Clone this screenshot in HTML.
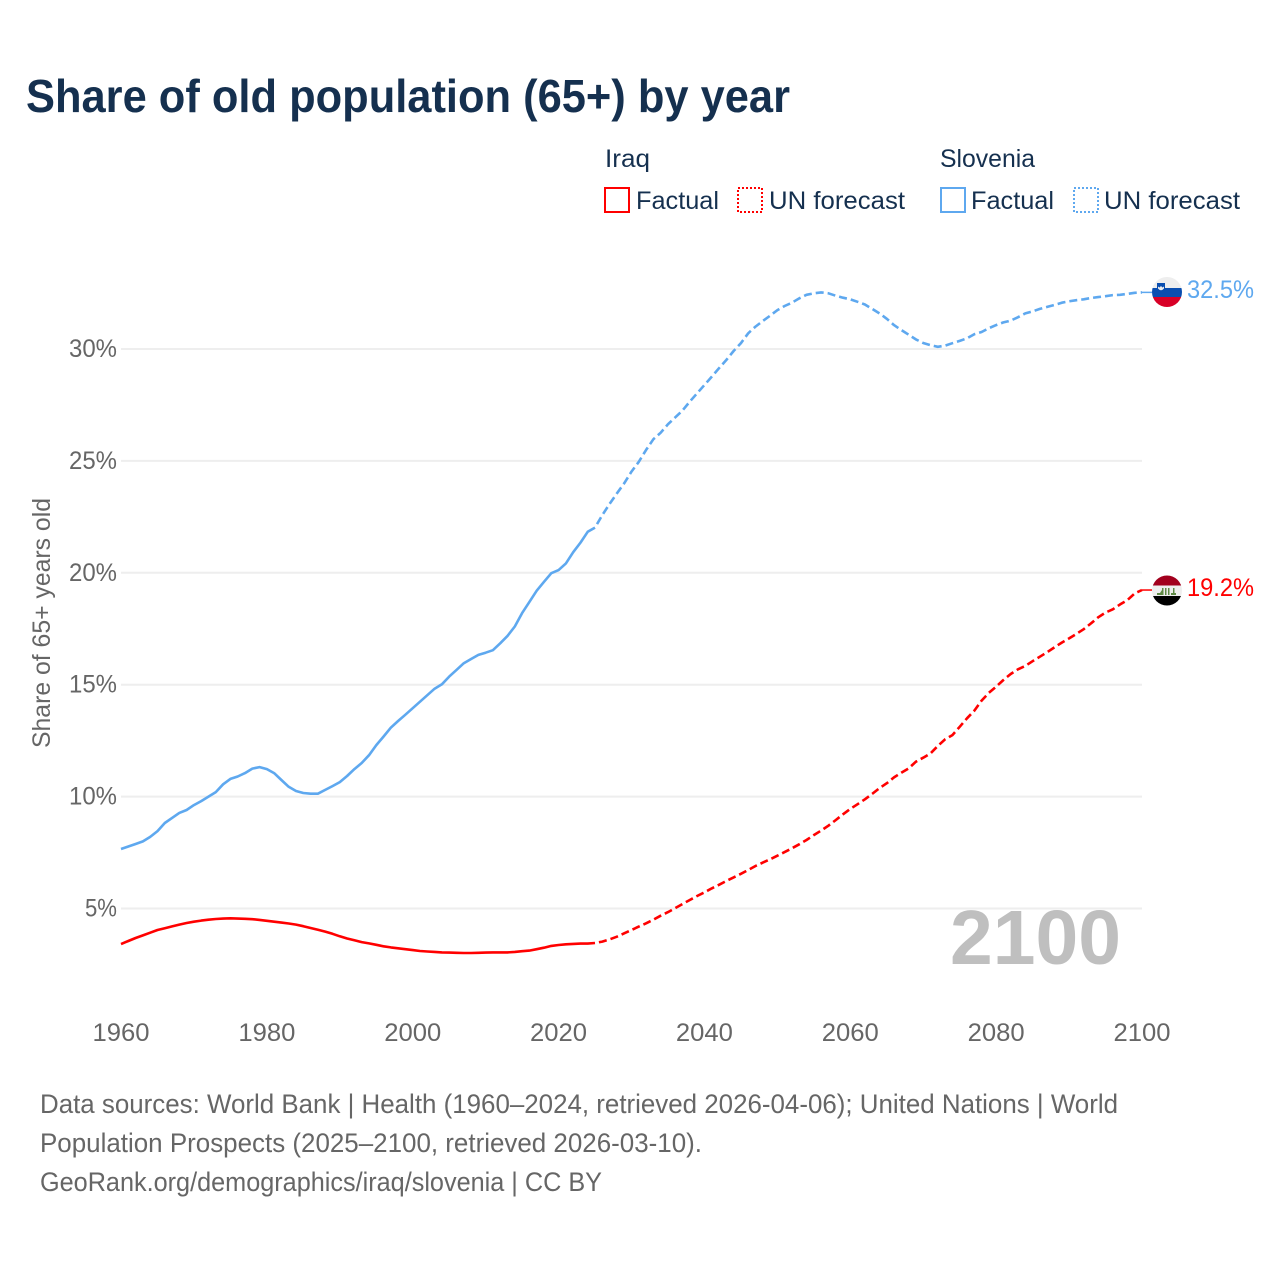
<!DOCTYPE html>
<html lang="en">
<head>
<meta charset="utf-8">
<title>Share of old population (65+) by year</title>
<style>
html,body{margin:0;padding:0;background:#fff}
svg{display:block}
text{font-family:"Liberation Sans",sans-serif}
</style>
</head>
<body>
<svg id="chart" xmlns="http://www.w3.org/2000/svg" width="1280" height="1280" viewBox="0 0 1280 1280">
<defs>
<clipPath id="clip-si"><circle cx="1167" cy="292" r="15"/></clipPath>
<clipPath id="clip-iq"><circle cx="1167" cy="590.5" r="15"/></clipPath>
</defs>
<rect width="1280" height="1280" fill="#fff"/>
<text x="26" y="112" font-size="46" font-weight="700" fill="#15304f" textLength="764" lengthAdjust="spacingAndGlyphs">Share of old population (65+) by year</text>

<g font-size="25" fill="#15304f">
<text x="605" y="167" textLength="45" lengthAdjust="spacingAndGlyphs">Iraq</text>
<rect x="605" y="188" width="24" height="24" fill="none" stroke="#ff0000" stroke-width="2"/>
<text x="636" y="209" textLength="83" lengthAdjust="spacingAndGlyphs">Factual</text>
<rect x="738" y="188" width="24" height="24" fill="none" stroke="#ff0000" stroke-width="2" stroke-dasharray="2 2"/>
<text x="769" y="209" textLength="136" lengthAdjust="spacingAndGlyphs">UN forecast</text>
<text x="940" y="167" textLength="95" lengthAdjust="spacingAndGlyphs">Slovenia</text>
<rect x="941" y="188" width="24" height="24" fill="none" stroke="#5ea8ef" stroke-width="2"/>
<text x="971" y="209" textLength="83" lengthAdjust="spacingAndGlyphs">Factual</text>
<rect x="1074" y="188" width="24" height="24" fill="none" stroke="#5ea8ef" stroke-width="2" stroke-dasharray="2 2"/>
<text x="1104" y="209" textLength="136" lengthAdjust="spacingAndGlyphs">UN forecast</text>
</g>

<text transform="translate(50,748) rotate(-90)" font-size="25" fill="#666" textLength="250" lengthAdjust="spacingAndGlyphs">Share of 65+ years old</text>

<g id="grid"></g>
<g id="y-ticks"></g>
<g id="x-ticks"></g>

<text x="950" y="964" font-size="77" font-weight="700" fill="#bfbfbf" textLength="171" lengthAdjust="spacingAndGlyphs">2100</text>

<g id="series"></g>

<g clip-path="url(#clip-si)">
<rect x="1152" y="277" width="30" height="11" fill="#eeeeee"/>
<rect x="1152" y="288" width="30" height="9" fill="#0a4eb0"/>
<rect x="1152" y="297" width="30" height="11" fill="#d80027"/>
<rect x="1157" y="283" width="8" height="9" fill="#0a4eb0"/>
<path d="M1158 286.5 l1.5 1 l1.5 -1.5 l1.5 1.5 l1.5 -1 v2 q-3 3.5 -6 0z" fill="#eeeeee"/>
</g>
<g clip-path="url(#clip-iq)">
<rect x="1152" y="575" width="30" height="10.5" fill="#a2001d"/>
<rect x="1152" y="585.5" width="30" height="10.5" fill="#eeeeee"/>
<rect x="1152" y="596" width="30" height="10.5" fill="#000000"/>
<path d="M1157 595v-2h3l2-3v-2h1.500v7zM1165 595v-7h1.500v7zM1168 595v-7h1.500v7zM1171 595v-2h2v-5h1.500v5h1.500v2z" fill="#5f8a45"/>
</g>

<text x="1187" y="298" font-size="25" fill="#5ea8ef" textLength="67" lengthAdjust="spacingAndGlyphs">32.5%</text>
<text x="1187" y="596" font-size="25" fill="#ff0000" textLength="67" lengthAdjust="spacingAndGlyphs">19.2%</text>

<g font-size="26.5" fill="#666">
<text x="40" y="1113" textLength="1078" lengthAdjust="spacingAndGlyphs">Data sources: World Bank | Health (1960–2024, retrieved 2026-04-06); United Nations | World</text>
<text x="40" y="1152" textLength="662" lengthAdjust="spacingAndGlyphs">Population Prospects (2025–2100, retrieved 2026-03-10).</text>
<text x="40" y="1191" textLength="562" lengthAdjust="spacingAndGlyphs">GeoRank.org/demographics/iraq/slovenia | CC BY</text>
</g>
</svg>
<script>
const firstYear = 1960;
const lastFactualYear = 2025;
const xTickYears = [1960, 1980, 2000, 2020, 2040, 2060, 2080, 2100];
const yTickValues = [5, 10, 15, 20, 25, 30];
const iraqValues = [
3.41,3.55,3.68,3.80,3.92,4.04,4.12,4.20,4.28,4.35,
4.41,4.46,4.50,4.53,4.55,4.56,4.55,4.54,4.52,4.49,
4.45,4.41,4.37,4.33,4.28,4.21,4.13,4.05,3.97,3.87,
3.76,3.66,3.58,3.50,3.44,3.38,3.31,3.26,3.22,3.18,
3.14,3.10,3.08,3.06,3.04,3.03,3.02,3.01,3.01,3.02,
3.03,3.04,3.04,3.04,3.06,3.09,3.12,3.18,3.25,3.33,
3.37,3.40,3.42,3.43,3.43,3.46,
3.52,3.62,3.74,3.89,4.04,4.19,4.34,4.50,4.68,4.84,
5.02,5.20,5.38,5.56,5.72,5.90,6.06,6.23,6.39,6.55,
6.72,6.90,7.05,7.20,7.36,7.52,7.69,7.87,8.06,8.28,
8.48,8.70,8.95,9.21,9.45,9.66,9.88,10.12,10.38,10.60,
10.86,11.07,11.26,11.56,11.74,11.93,12.26,12.56,12.75,13.12,
13.50,13.84,14.29,14.64,14.91,15.21,15.48,15.69,15.84,16.05,
16.25,16.45,16.67,16.88,17.07,17.27,17.48,17.74,18.01,18.22,
18.37,18.59,18.78,19.08,19.23
];
const sloveniaValues = [
7.66,7.77,7.88,8.00,8.20,8.46,8.82,9.05,9.27,9.40,
9.62,9.80,10.00,10.20,10.55,10.79,10.90,11.05,11.25,11.32,
11.23,11.05,10.74,10.44,10.25,10.16,10.13,10.13,10.30,10.47,
10.65,10.92,11.23,11.50,11.85,12.30,12.68,13.08,13.38,13.66,
13.95,14.24,14.53,14.82,15.02,15.36,15.66,15.96,16.15,16.33,
16.43,16.54,16.85,17.18,17.60,18.20,18.70,19.20,19.60,19.98,
20.12,20.42,20.92,21.35,21.83,22.02,
22.58,23.08,23.55,24.00,24.52,24.96,25.49,25.97,26.26,26.64,
26.95,27.25,27.65,28.02,28.39,28.76,29.14,29.51,29.91,30.26,
30.70,31.00,31.25,31.49,31.74,31.92,32.07,32.26,32.42,32.49,
32.53,32.49,32.38,32.29,32.22,32.11,31.99,31.79,31.59,31.35,
31.07,30.85,30.64,30.43,30.27,30.17,30.10,30.15,30.26,30.36,
30.48,30.66,30.76,30.93,31.07,31.19,31.27,31.42,31.59,31.68,
31.79,31.88,31.97,32.07,32.13,32.18,32.22,32.28,32.32,32.36,
32.41,32.42,32.46,32.51,32.53
];

const NS = 'http://www.w3.org/2000/svg';
function xScale(year) { return 121 + (year - 1960) * (1142 - 121) / 140; }
function yScale(value) { return 908.5 - (value - 5) * 22.38; }
function pointsFor(values, fromYear, toYear) {
  const out = [];
  values.forEach(function (v, i) {
    const year = firstYear + i;
    if (year >= fromYear && year <= toYear) out.push(xScale(year).toFixed(1) + ',' + yScale(v).toFixed(1));
  });
  return out.join(' ');
}

const gridGroup = document.getElementById('grid');
const yTickGroup = document.getElementById('y-ticks');
yTickValues.forEach(function (v) {
  const line = document.createElementNS(NS, 'line');
  
  
  line.setAttribute('x1', xScale(1960));
  line.setAttribute('x2', xScale(2100));
  line.setAttribute('y1', yScale(v));
  line.setAttribute('y2', yScale(v));
  line.setAttribute('stroke', '#eeeeee');
  line.setAttribute('stroke-width', '2');
  gridGroup.appendChild(line);
  const label = v + '%';
  const t = document.createElementNS(NS, 'text');
  
  
  t.setAttribute('x', 117 - label.length * 16);
  t.setAttribute('y', yScale(v) + 8);
  t.setAttribute('font-size', '25');
  t.setAttribute('fill', '#666');
  t.setAttribute('textLength', label.length * 16);
  t.setAttribute('lengthAdjust', 'spacingAndGlyphs');
  t.textContent = label;
  yTickGroup.appendChild(t);
});

const xTickGroup = document.getElementById('x-ticks');
xTickYears.forEach(function (year) {
  const t = document.createElementNS(NS, 'text');
  
  
  t.setAttribute('x', xScale(year) - 28.5);
  t.setAttribute('y', 1041);
  t.setAttribute('font-size', '25');
  t.setAttribute('fill', '#666');
  t.setAttribute('textLength', '57');
  t.setAttribute('lengthAdjust', 'spacingAndGlyphs');
  t.textContent = String(year);
  xTickGroup.appendChild(t);
});

const seriesGroup = document.getElementById('series');
function drawLine(name, values, color, fromYear, toYear, dashed) {
  const p = document.createElementNS(NS, 'polyline');
  
  
  p.setAttribute('points', pointsFor(values, fromYear, toYear));
  p.setAttribute('fill', 'none');
  p.setAttribute('stroke', color);
  p.setAttribute('stroke-width', '2.6');
  p.setAttribute('stroke-linejoin', 'round');
  if (dashed) {
    p.setAttribute('stroke-dasharray', '8 4');
    p.setAttribute('stroke-dashoffset', '8');
  }
  seriesGroup.appendChild(p);
}
function drawConnector(name, values, color) {
  const c = document.createElementNS(NS, 'line');
  
  
  const yEnd = yScale(values[values.length - 1]);
  c.setAttribute('x1', xScale(2100));
  c.setAttribute('x2', xScale(2100) + 10);
  c.setAttribute('y1', yEnd);
  c.setAttribute('y2', yEnd);
  c.setAttribute('stroke', color);
  c.setAttribute('stroke-width', '1.5');
  seriesGroup.appendChild(c);
}
drawLine('line-slovenia-factual', sloveniaValues, '#5ea8ef', firstYear, lastFactualYear, false);
drawLine('line-slovenia-forecast', sloveniaValues, '#5ea8ef', lastFactualYear, 2100, true);
drawConnector('flag-connector-slovenia', sloveniaValues, '#5ea8ef');
drawLine('line-iraq-factual', iraqValues, '#ff0000', firstYear, lastFactualYear, false);
drawLine('line-iraq-forecast', iraqValues, '#ff0000', lastFactualYear, 2100, true);
drawConnector('flag-connector-iraq', iraqValues, '#ff0000');
</script>
</body>
</html>
